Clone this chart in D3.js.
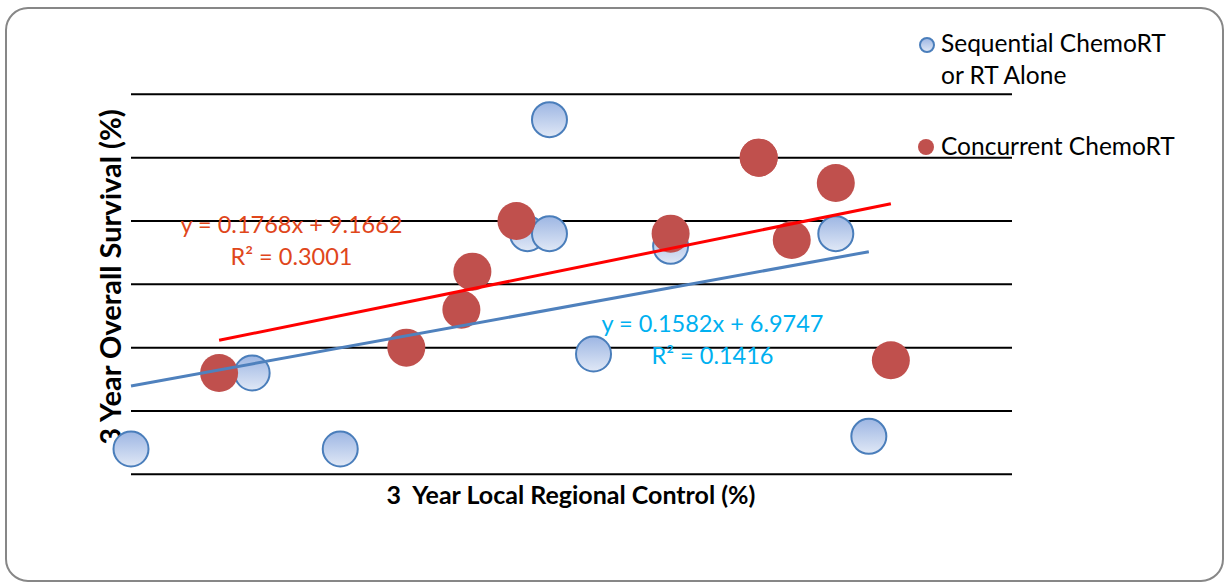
<!DOCTYPE html>
<html>
<head>
<meta charset="utf-8">
<script src="https://cdn.jsdelivr.net/npm/d3@7"></script>
<style>
  html, body { margin: 0; padding: 0; background: #fff; }
  svg { display: block; }
  text { font-family: Lato, "Open Sans", sans-serif; font-variant-ligatures: none; }
</style>
</head>
<body>
<svg id="chart" width="1225" height="583"></svg>
<script>
// Sequential ChemoRT or RT alone
const seqLRC = [0, 11, 19, 36, 38, 38, 42, 49, 64, 67];
const seqOS  = [2, 8, 2, 19, 19, 28, 9.5, 18, 19, 3];
// Concurrent ChemoRT
const concLRC = [8, 25, 30, 31, 35, 49, 57, 57, 60, 64, 69];
const concOS  = [8, 10, 13, 16, 20, 19, 25, 25, 18.5, 23, 9];

// Linear trendlines (slope, intercept) and fit statistics
const seqFit  = { m: 0.1582, b: 6.9747, r2: "0.1416" };
const concFit = { m: 0.1768, b: 9.1662, r2: "0.3001" };

const gridValues = [0, 5, 10, 15, 20, 25, 30];
const seriesNames = ["Sequential ChemoRT", "or RT Alone", "Concurrent ChemoRT"];

const svg = d3.select("#chart");

// chart frame
svg.append("rect")
  .attr("x", 6).attr("y", 8).attr("width", 1217).attr("height", 573)
  .attr("rx", 22).attr("ry", 22)
  .attr("fill", "#fff").attr("stroke", "#878787").attr("stroke-width", 2);

const x = d3.scaleLinear().domain([0, 80]).range([131, 1012]);
const y = d3.scaleLinear().domain([0, 30]).range([474.3, 94.3]);

// horizontal gridlines
svg.append("g").selectAll("line").data(gridValues).join("line")
  .attr("x1", x(0)).attr("x2", x(80))
  .attr("y1", d => y(d)).attr("y2", d => y(d))
  .attr("stroke", "#000").attr("stroke-width", 2);

// axis titles
svg.append("text")
  .attr("x", 571).attr("y", 504)
  .attr("text-anchor", "middle")
  .attr("font-weight", "bold").attr("font-size", 25)
  .attr("fill", "#000")
  .attr("xml:space", "preserve")
  .text("3  Year Local Regional Control (%)");

svg.append("text")
  .attr("transform", "translate(121,277) rotate(-90)")
  .attr("text-anchor", "middle")
  .attr("font-weight", "bold").attr("font-size", 29)
  .attr("fill", "#000")
  .text("3 Year Overall Survival (%)");

// gradient for sequential markers
const defs = svg.append("defs");
const grad = defs.append("linearGradient").attr("id", "seqFill")
  .attr("x1", 0).attr("y1", 0).attr("x2", 0).attr("y2", 1);
grad.append("stop").attr("offset", "0%").attr("stop-color", "#9DB6E3");
grad.append("stop").attr("offset", "100%").attr("stop-color", "#E0E8F6");

// sequential points
svg.append("g").selectAll("circle").data(d3.zip(seqLRC, seqOS)).join("circle")
  .attr("cx", d => x(d[0])).attr("cy", d => y(d[1]))
  .attr("r", 17.5)
  .attr("fill", "url(#seqFill)")
  .attr("stroke", "#4A7EBB").attr("stroke-width", 2);

// concurrent points
svg.append("g").selectAll("circle").data(d3.zip(concLRC, concOS)).join("circle")
  .attr("cx", d => x(d[0])).attr("cy", d => y(d[1]))
  .attr("r", 19)
  .attr("fill", "#C0504D");

// trendlines across each series' data range
function trend(xs, fit, color) {
  const [lo, hi] = d3.extent(xs);
  svg.append("line")
    .attr("x1", x(lo)).attr("y1", y(fit.m * lo + fit.b))
    .attr("x2", x(hi)).attr("y2", y(fit.m * hi + fit.b))
    .attr("stroke", color).attr("stroke-width", 3);
}
trend(seqLRC, seqFit, "#4F81BD");
trend(concLRC, concFit, "#FF0000");

// trendline equations
function eqLabel(cx, by, fit, color) {
  const g = svg.append("g").attr("fill", color).attr("font-size", 23.5).attr("text-anchor", "middle");
  g.append("text").attr("x", cx).attr("y", by)
    .text(`y = ${fit.m}x + ${fit.b}`);
  g.append("text").attr("x", cx).attr("y", by + 32)
    .text(`R² = ${fit.r2}`);
}
eqLabel(291.5, 233, concFit, "#E0461B");
eqLabel(712.5, 332, seqFit, "#00B0F0");

// legend
const lg = svg.append("g").attr("font-size", 24.5).attr("fill", "#000");
lg.append("circle").attr("cx", 927).attr("cy", 45).attr("r", 7)
  .attr("fill", "url(#seqFill)").attr("stroke", "#4A7EBB").attr("stroke-width", 2);
lg.append("text").attr("x", 941).attr("y", 52).text(seriesNames[0]);
lg.append("text").attr("x", 941).attr("y", 84).text(seriesNames[1]);
lg.append("circle").attr("cx", 926).attr("cy", 147).attr("r", 8).attr("fill", "#C0504D");
lg.append("text").attr("x", 941).attr("y", 155).text(seriesNames[2]);
</script>
</body>
</html>
